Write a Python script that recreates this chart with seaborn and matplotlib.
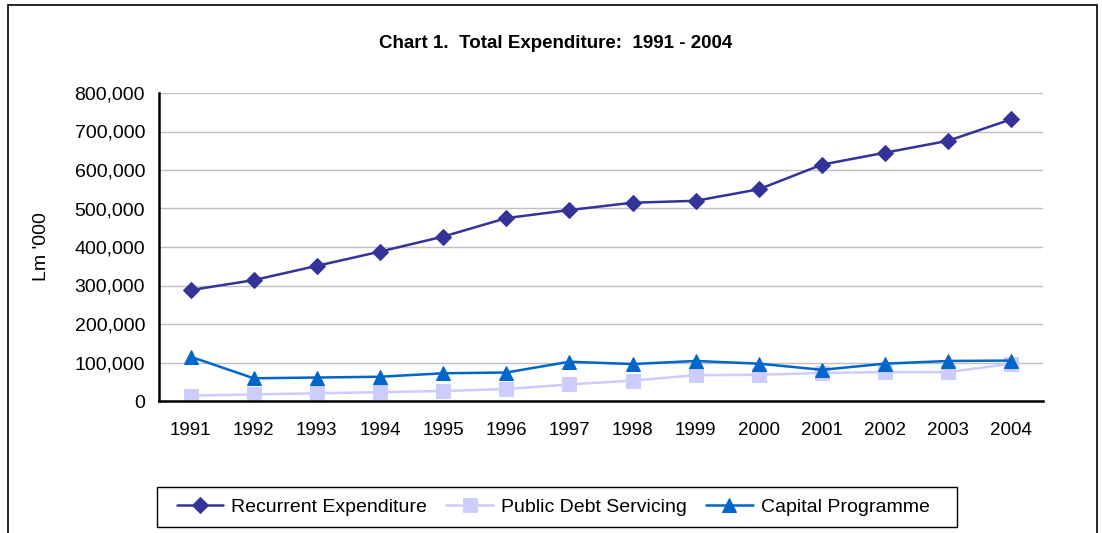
import numpy as np
import pandas as pd
import matplotlib
matplotlib.use("Agg")
import matplotlib.pyplot as plt
from matplotlib.patches import Rectangle
import seaborn as sns

years = ["1991", "1992", "1993", "1994", "1995", "1996", "1997",
         "1998", "1999", "2000", "2001", "2002", "2003", "2004"]
recurrent = [288000, 314000, 351000, 388000, 427000, 475000, 496000,
             515000, 520000, 550000, 614000, 645000, 676000, 732000]
debt = [14000, 17000, 20000, 23000, 26000, 31000, 43000,
        53000, 67000, 68000, 73000, 75000, 75000, 97000]
capital = [115000, 59000, 61000, 63000, 72000, 74000, 102000,
           96000, 104000, 97000, 81000, 97000, 104000, 105000]
series_names = ["Recurrent Expenditure", "Public Debt Servicing", "Capital Programme"]
yticks = [0, 100000, 200000, 300000, 400000, 500000, 600000, 700000, 800000]

sns.set_style("white")
plt.rcParams["font.family"] = ["Liberation Sans", "DejaVu Sans"]
plt.rcParams["text.color"] = "black"
plt.rcParams["axes.labelcolor"] = "black"
plt.rcParams["xtick.color"] = "black"
plt.rcParams["ytick.color"] = "black"

df = pd.DataFrame({
    "pos": list(range(len(years))) * 3,
    "value": recurrent + debt + capital,
    "series": np.repeat(series_names, len(years)),
})

colors = {"Recurrent Expenditure": "#333399",
          "Public Debt Servicing": "#CCCCFF",
          "Capital Programme": "#0066CC"}
markers = {"Recurrent Expenditure": "D",
           "Public Debt Servicing": "s",
           "Capital Programme": "^"}
msizes = {"Recurrent Expenditure": 8.5,
          "Public Debt Servicing": 10,
          "Capital Programme": 10}

W, H = 1102, 533
fig = plt.figure(figsize=(W / 100, H / 100), dpi=100)
ax = fig.add_axes([159 / W, 1 - 401 / H, (1043 - 159) / W, (401 - 93) / H])

for name in series_names:
    sub = df[df["series"] == name]
    sns.lineplot(data=sub, x="pos", y="value", ax=ax, color=colors[name],
                 marker=markers[name], markersize=msizes[name],
                 markeredgecolor=colors[name], linewidth=1.8, label=name,
                 legend=False)

ax.set_xlim(-0.5, len(years) - 0.5)
ax.set_ylim(0, 800000)
ax.set_yticks(yticks)
ax.set_yticklabels([f"{v:,}" for v in yticks], fontsize=14)
ax.set_xticks(range(len(years)))
ax.set_xticklabels(years, fontsize=13.5)
ax.set_xticks(np.arange(-0.5, len(years)), minor=True)
ax.tick_params(axis="x", which="major", length=0, pad=15)
ax.tick_params(axis="x", which="minor", length=6, width=1.5, color="black", direction="out")
ax.tick_params(axis="y", length=6, width=1.5, color="black", direction="out", pad=4)
ax.set_xlabel("")
ax.set_ylabel("Lm '000", fontsize=14)
ax.yaxis.set_label_coords((50 - 159) / (1043 - 159), 0.5)
ax.yaxis.grid(True, color="#c0c0c0", linewidth=1)
ax.set_axisbelow(True)
for s in ["top", "right"]:
    ax.spines[s].set_visible(False)
for s in ["left", "bottom"]:
    ax.spines[s].set_color("black")
    ax.spines[s].set_linewidth(1.8)

fig.text(556 / W, 1 - 43 / H, "Chart 1.  Total Expenditure:  1991 - 2004",
         ha="center", va="center", fontsize=13.5, fontweight="bold")

handles, labels = ax.get_legend_handles_labels()
fig.legend(handles, labels, loc="center", bbox_to_anchor=(553 / W, 1 - 507 / H),
           ncol=3, frameon=False, fontsize=14,
           handlelength=2.4, columnspacing=1.0, borderpad=0.3, handletextpad=0.4)

# legend box
fig.add_artist(Rectangle((157 / W, 1 - 527 / H), (957 - 157) / W, 40 / H,
                         transform=fig.transFigure, fill=False,
                         edgecolor="black", linewidth=1.0))

# outer chart frame
fig.add_artist(Rectangle((8 / W, -0.05), (1097 - 8) / W, 1.05 - 5 / H,
                         transform=fig.transFigure, fill=False,
                         edgecolor="black", linewidth=1.2))

fig.savefig("out.png", dpi=100)
